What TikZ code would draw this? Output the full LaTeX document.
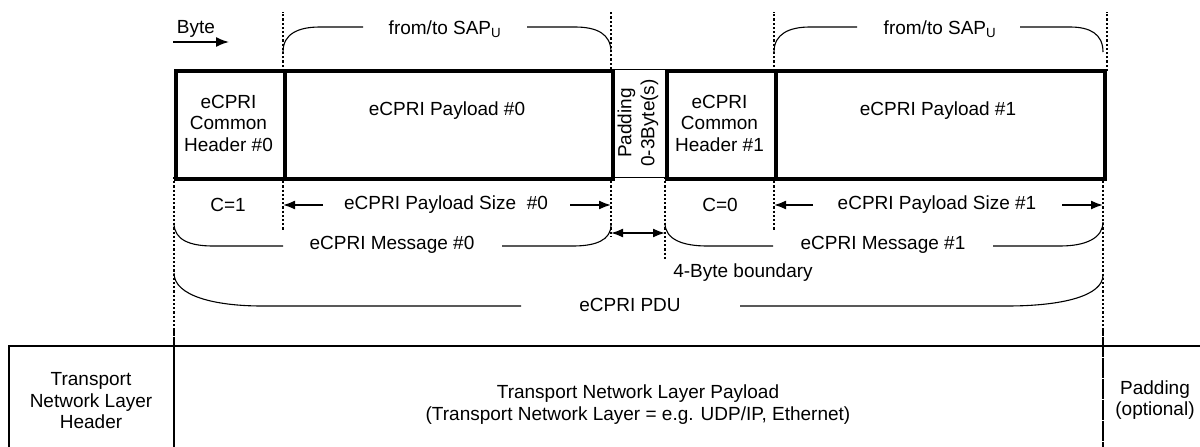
\documentclass[tikz,border=0pt]{standalone}
\usepackage{fontspec}
\setmainfont{Liberation Sans}
\usetikzlibrary{arrows.meta}
\begin{document}
\begin{tikzpicture}[x=1pt,y=-1pt,
  every node/.style={font=\fontsize{19}{21.5}\selectfont, align=center, inner sep=0pt},
  blk/.style={draw, line width=4pt, anchor=north west, minimum height=108pt},
  padbox/.style={draw, line width=1pt, anchor=north west, minimum height=108pt, minimum width=54pt},
  dotl/.style={line width=1.4pt, dash pattern=on 2.2pt off 2pt},
  brace/.style={line width=1.1pt},
  sizearr/.style={line width=1.7pt, -{Latex[length=12pt,width=9pt]}},
  dblarr/.style={line width=1.7pt, {Latex[length=12pt,width=9pt]}-{Latex[length=12pt,width=9pt]}},
  tnl/.style={line width=1.7pt}]
\clip (0,0) rectangle (1200,447);
% top blocks
\node[padbox] (pad) at (611,69) {};
\node[blk, minimum width=109pt] (h0) at (174,69) {};
\node[blk, minimum width=328pt] (p0) at (283,69) {};
\node[blk, minimum width=109pt] (h1) at (665,69) {};
\node[blk, minimum width=329pt] (p1) at (774,69) {};
\node (h0t) at (228.5,123) {eCPRI\\Common\\Header \#0};
\node (p0t) at (447,111) {eCPRI Payload \#0};
\node[rotate=90, font=\fontsize{19}{23}\selectfont] (padt) at (638,123) {Padding\\0-3Byte(s)};
\node (h1t) at (719.5,123) {eCPRI\\Common\\Header \#1};
\node (p1t) at (938,111) {eCPRI Payload \#1};
% Byte arrow
\node (byte) at (196,29) {Byte};
\coordinate (ba) at (173,42);
\coordinate (bb) at (229,42);
\draw[line width=1.7pt, -{Latex[length=13pt,width=10pt]}] (ba) -- (bb);
% dotted guides top
\draw[dotl] (p0.north west) ++(0,2) -- ++(0,-59);
\draw[dotl] (pad.north west) -- ++(0,-57);
\draw[dotl] (p1.north west) ++(0,2) -- ++(0,-59);
\draw[dotl] (p1.north east) ++(0,2) -- ++(0,-59);
% dotted guides below
\draw[dotl] (174,177) -- (174,447);
\draw[dotl] (1103,177) -- (1103,447);
\draw[dotl] (283,177) -- (283,230);
\draw[dotl] (611,177) -- (611,236);
\draw[dotl] (665,177) -- (665,260);
\draw[dotl] (774,177) -- (774,230);
% top braces
\node (sap0) at (445,29) {from/to SAP\textsubscript{U}};
\draw[brace] (283,52) .. controls (283,34) and (298,27) .. (320,27) -- (363,27);
\draw[brace] (527,27) -- (575,27) .. controls (597,27) and (611,34) .. (611,52);
\node (sap1) at (940,29) {from/to SAP\textsubscript{U}};
\draw[brace] (774,52) .. controls (774,34) and (789,27) .. (810,27) -- (857,27);
\draw[brace] (1020,27) -- (1070,27) .. controls (1090,27) and (1103,34) .. (1103,52);
% size row
\node (c1) at (228,205) {C=1};
\node (s0) at (446,205) {eCPRI Payload Size\ \ \#0};
\coordinate (s0l) at (323,205); \coordinate (s0lt) at (283,205);
\coordinate (s0r) at (570,205); \coordinate (s0rt) at (611,205);
\draw[sizearr] (s0l) -- (s0lt);
\draw[sizearr] (s0r) -- (s0rt);
\node (c0) at (720,205) {C=0};
\node (s1) at (937,205) {eCPRI Payload Size \#1};
\coordinate (s1l) at (813,205); \coordinate (s1lt) at (774,205);
\coordinate (s1r) at (1062,205); \coordinate (s1rt) at (1103,205);
\draw[sizearr] (s1l) -- (s1lt);
\draw[sizearr] (s1r) -- (s1rt);
% message braces
\node (m0) at (392,245) {eCPRI Message \#0};
\draw[brace] (174,223) .. controls (174,240) and (190,246) .. (213,246) -- (283,246);
\draw[brace] (502,246) -- (573,246) .. controls (596,246) and (611,240) .. (611,225);
\node (m1) at (883,245) {eCPRI Message \#1};
\draw[brace] (665,223) .. controls (665,240) and (684,246) .. (707,246) -- (773,246);
\draw[brace] (993,246) -- (1060,246) .. controls (1086,246) and (1103,238) .. (1103,222);
\coordinate (da) at (611,233); \coordinate (db) at (665,233);
\draw[dblarr] (da) -- (db);
\node (bnd) at (743,273) {4-Byte boundary};
% PDU brace
\node (pdu) at (630,305) {eCPRI PDU};
\draw[brace] (174,273) .. controls (174,296) and (215,306) .. (262,306) -- (521,306);
\draw[brace] (740,306) -- (1007,306) .. controls (1062,306) and (1103,296) .. (1103,275);
% transport layer
\draw[tnl] (9,460) -- (9,346) -- (1210,346);
\draw[tnl] (174,346) -- (174,460);
\draw[dotl] (174,330) -- (174,447);
\draw[dotl] (1103,330) -- (1103,447);
\node (tnlh) at (91,401) {Transport\\Network Layer\\Header};
\node (tnlp) at (638,404.5) {Transport Network Layer Payload\\(Transport Network Layer = e.g. UDP/IP, Ethernet)};
\node (tnlpad) at (1155,400) {Padding\\(optional)};
\end{tikzpicture}
\end{document}
